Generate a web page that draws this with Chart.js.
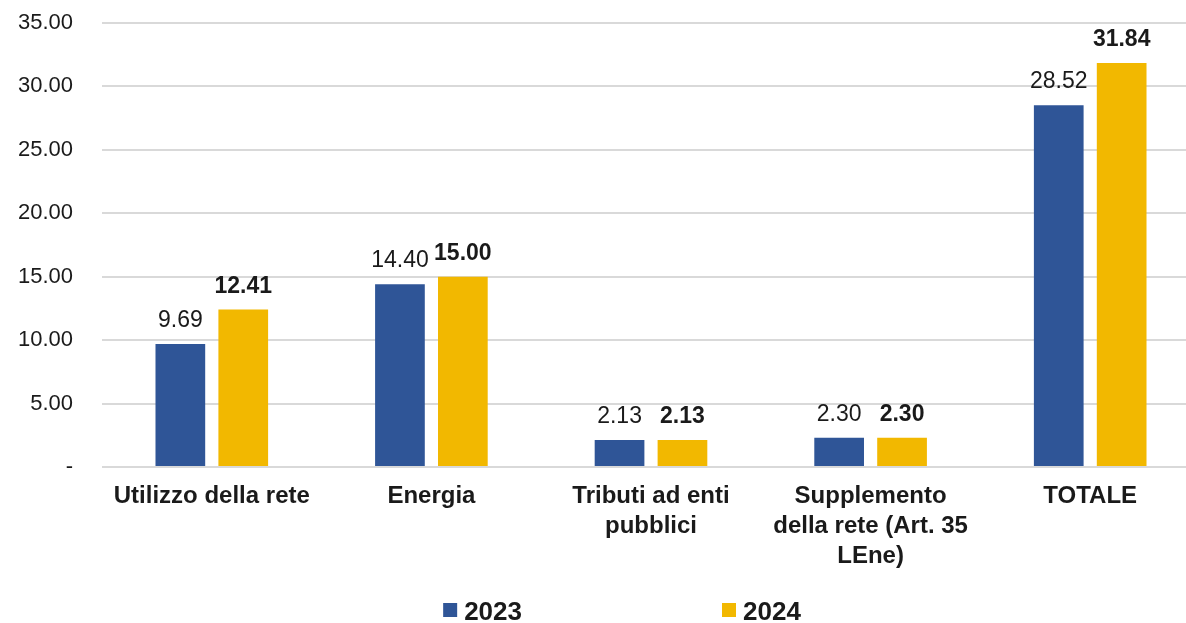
<!DOCTYPE html>
<html>
<head>
<meta charset="utf-8">
<script src="https://cdn.jsdelivr.net/npm/chart.js@4/dist/chart.umd.min.js"></script>
<style>
  html, body { margin: 0; padding: 0; background: #fff; overflow: hidden; }
  #wrap { width: 1205px; height: 623px; }
</style>
</head>
<body>
<div id="wrap"><canvas id="chart"></canvas></div>
<script>
const categories = [
  ["Utilizzo della rete"],
  ["Energia"],
  ["Tributi ad enti", "pubblici"],
  ["Supplemento", "della rete (Art. 35", "LEne)"],
  ["TOTALE"],
];
const years = ["2023", "2024"];
const values2023 = [9.69, 14.40, 2.13, 2.30, 28.52];
const values2024 = [12.41, 15.00, 2.13, 2.30, 31.84];
const colors = ["#2F5597", "#F2B800"];

const FONT = "'Liberation Sans', Arial, sans-serif";

// value labels above each bar, 2024 in bold
const barLabels = {
  id: "barLabels",
  afterDatasetsDraw(chart) {
    const ctx = chart.ctx;
    ctx.save();
    ctx.textAlign = "center";
    ctx.textBaseline = "alphabetic";
    ctx.fillStyle = "#1a1a1a";
    chart.data.datasets.forEach((ds, i) => {
      ctx.font = (i === 1 ? "bold " : "") + "23px " + FONT;
      chart.getDatasetMeta(i).data.forEach((bar, j) => {
        ctx.fillText(ds.data[j].toFixed(2), bar.x, bar.y - 17);
      });
    });
    ctx.restore();
  },
};

// legend at the bottom with a wide gap between entries
const bottomLegend = {
  id: "bottomLegend",
  afterDraw(chart) {
    const ctx = chart.ctx;
    ctx.save();
    ctx.font = "bold 26px " + FONT;
    ctx.textBaseline = "alphabetic";
    const box = 14, gapText = 7, gapItems = 200;
    const widths = chart.data.datasets.map((ds) => box + gapText + ctx.measureText(ds.label).width);
    const total = widths.reduce((a, b) => a + b, 0) + gapItems * (widths.length - 1);
    let x = 622 - total / 2;
    const y = 620;
    chart.data.datasets.forEach((ds, i) => {
      ctx.fillStyle = ds.backgroundColor;
      ctx.fillRect(x, y - 17, box, box);
      ctx.fillStyle = "#1a1a1a";
      ctx.fillText(ds.label, x + box + gapText, y);
      x += widths[i] + gapItems;
    });
    ctx.restore();
  },
};

new Chart(document.getElementById("chart"), {
  type: "bar",
  data: {
    labels: categories,
    datasets: [
      { label: years[0], data: values2023, backgroundColor: colors[0] },
      { label: years[1], data: values2024, backgroundColor: colors[1] },
    ],
  },
  options: {
    responsive: true,
    maintainAspectRatio: false,
    animation: false,
    categoryPercentage: 0.573,
    barPercentage: 0.79,
    layout: { padding: { top: 23, right: 5, bottom: 46, left: 0 } },
    plugins: {
      legend: { display: false },
      tooltip: { enabled: false },
    },
    scales: {
      x: {
        grid: { display: false },
        border: { display: false },
        ticks: {
          color: "#1a1a1a",
          font: { family: FONT, size: 24, weight: "bold", lineHeight: 1.25 },
          padding: 6,
          maxRotation: 0,
          autoSkip: false,
        },
      },
      y: {
        min: 0,
        max: 35,
        grid: { color: "#d9d9d9", lineWidth: 2, drawTicks: true, tickLength: 29, tickColor: "rgba(0,0,0,0)" },
        border: { display: false },
        ticks: {
          stepSize: 5,
          color: "#1a1a1a",
          font: { family: FONT, size: 22 },
          padding: 0,
          callback: (v) => (v === 0 ? "-" : v.toFixed(2)),
        },
        afterFit: (scale) => { scale.width = 102; },
      },
    },
  },
  plugins: [barLabels, bottomLegend],
});
</script>
</body>
</html>
